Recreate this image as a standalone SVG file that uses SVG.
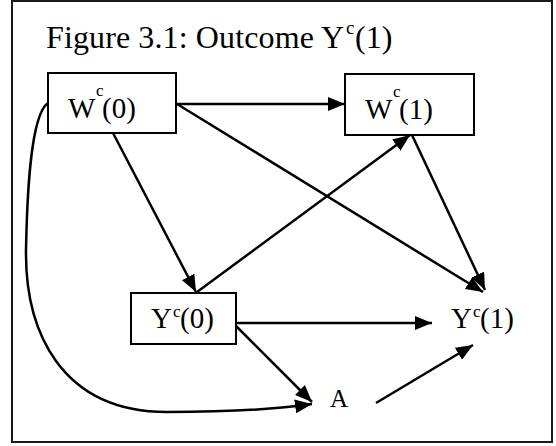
<svg xmlns="http://www.w3.org/2000/svg" width="556" height="446" viewBox="0 0 556 446">
  <defs>
    <style>
      .frame { fill: #fff; stroke: #1a1a1a; stroke-width: 2; }
      .box { fill: #fff; stroke: #000; stroke-width: 2; }
      .lbl { font-family: "Liberation Serif", "Times New Roman", serif; font-size: 29px; fill: #000; }
      .sup { font-family: "Liberation Serif", "Times New Roman", serif; font-size: 17px; fill: #000; }
      .title { font-family: "Liberation Serif", "Times New Roman", serif; font-size: 32px; fill: #000; }
      .edge { fill: none; stroke: #000; stroke-width: 2.5; marker-end: url(#ah); }
    </style>
    <marker id="ah" markerWidth="18" markerHeight="14" refX="17" refY="7" orient="auto" markerUnits="userSpaceOnUse">
      <path d="M0,0 L17,7 L0,14 z" fill="#000"/>
    </marker>
  </defs>

  <!-- outer frame -->
  <rect class="frame" x="12" y="1" width="540" height="441"/>

  <!-- heading -->
  <g id="title">
    <text class="title" x="46" y="48" textLength="298" lengthAdjust="spacing">Figure 3.1: Outcome Y</text>
    <text class="sup" x="346" y="34" style="font-size:19px">c</text>
    <text class="title" x="355" y="48">(1)</text>
  </g>

  <!-- connectors -->
  <g id="edges">
    <path class="edge" d="M176,104 L345,104"/>
    <path class="edge" d="M177,104 L483,292"/>
    <path class="edge" d="M113,133 L196,292"/>
    <path class="edge" d="M197,292 L410,135"/>
    <path class="edge" d="M412,135 L485,290"/>
    <path class="edge" d="M236,323 L432,323"/>
    <path class="edge" d="M236,326 L312,402"/>
    <path class="edge" d="M376,403 L473,345"/>
    <path class="edge" d="M48,103 C30,115 27,200 26,250 C25,330 60,412 167,412 C220,412 270,410 312,404"/>
  </g>

  <!-- nodes -->
  <g id="W0">
    <rect class="box" x="48" y="73" width="128" height="60"/>
    <text class="lbl" x="68" y="118">W</text>
    <text class="sup" x="96" y="96">c</text>
    <text class="lbl" x="102" y="118">(0)</text>
  </g>
  <g id="W1">
    <rect class="box" x="345" y="74" width="129" height="61"/>
    <text class="lbl" x="365" y="119">W</text>
    <text class="sup" x="393" y="97">c</text>
    <text class="lbl" x="399" y="119">(1)</text>
  </g>
  <g id="Y0">
    <rect class="box" x="131" y="293" width="105" height="51"/>
    <text class="lbl" x="151" y="328">Y</text>
    <text class="sup" x="173" y="317">c</text>
    <text class="lbl" x="180" y="328">(0)</text>
  </g>
  <g id="Y1">
    <text class="lbl" x="451" y="328">Y</text>
    <text class="sup" x="473" y="317">c</text>
    <text class="lbl" x="480" y="328">(1)</text>
  </g>
  <g id="A">
    <text class="lbl" x="330" y="407" style="font-size:25px">A</text>
  </g>
</svg>
